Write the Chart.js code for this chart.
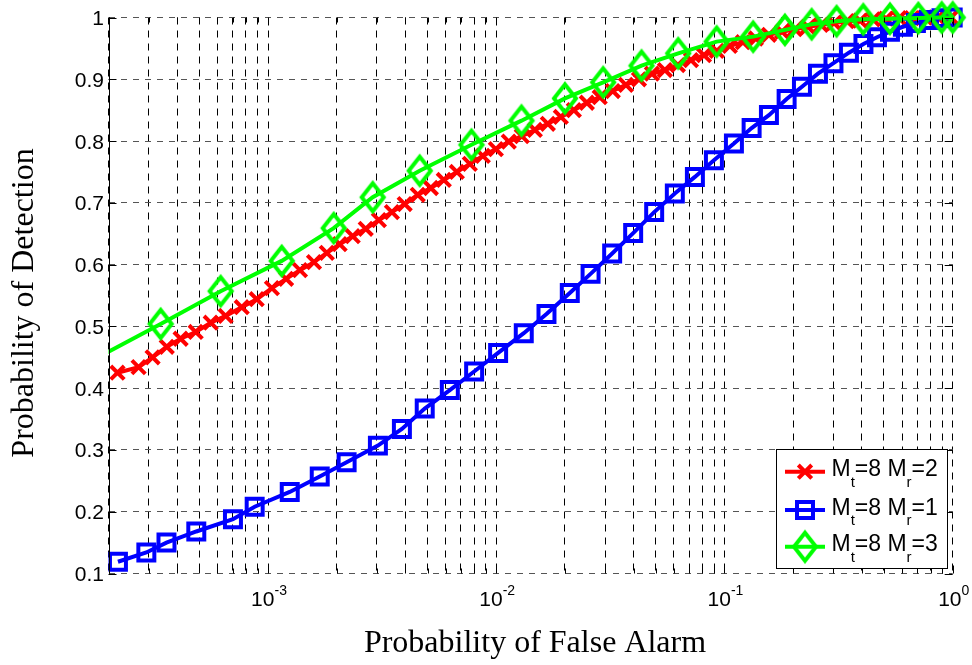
<!DOCTYPE html>
<html>
<head>
<meta charset="utf-8">
<script src="https://cdn.jsdelivr.net/npm/chart.js@4.4.1/dist/chart.umd.min.js"></script>
<style>
html,body{margin:0;padding:0;background:#fff;}
canvas{display:block;}
</style>
</head>
<body>
<canvas id="c" width="972" height="665" style="width:972px;height:665px"></canvas>
<script>
// values
const legendLabels = ['M_t=8 M_r=2', 'M_t=8 M_r=1', 'M_t=8 M_r=3'];
const xTickExps = [-3, -2, -1, 0];
const yTickLabels = ['0.1','0.2','0.3','0.4','0.5','0.6','0.7','0.8','0.9','1'];

const pfaRed = [2.19e-4, 2.71e-4, 3.12e-4, 3.60e-4, 4.14e-4, 4.82e-4, 5.61e-4, 6.52e-4, 7.67e-4, 8.92e-4,
  1.04e-3, 1.20e-3, 1.38e-3, 1.59e-3, 1.81e-3, 2.06e-3, 2.35e-3, 2.68e-3, 3.06e-3, 3.49e-3,
  3.97e-3, 4.53e-3, 5.17e-3, 5.89e-3, 6.72e-3, 7.66e-3, 8.73e-3, 9.96e-3, 1.135e-2, 1.294e-2,
  1.476e-2, 1.683e-2, 1.919e-2, 2.188e-2, 2.494e-2, 2.84e-2, 3.24e-2, 3.70e-2, 4.22e-2, 4.81e-2,
  5.48e-2, 6.25e-2, 7.13e-2, 8.13e-2, 9.26e-2, 0.1056, 0.1204, 0.1373, 0.1566, 0.1786,
  0.2036, 0.2321, 0.2647, 0.3018, 0.3441, 0.3924, 0.4473, 0.5101, 0.5816, 0.6632,
  0.7561, 0.862, 0.983];
const pdRed = [0.425, 0.434, 0.450, 0.467, 0.480, 0.491, 0.506, 0.517, 0.531, 0.544,
  0.562, 0.577, 0.591, 0.604, 0.619, 0.633, 0.646, 0.658, 0.672, 0.685,
  0.698, 0.713, 0.724, 0.737, 0.750, 0.763, 0.776, 0.787, 0.799, 0.808,
  0.818, 0.828, 0.839, 0.850, 0.862, 0.871, 0.881, 0.891, 0.900, 0.909,
  0.915, 0.923, 0.931, 0.939, 0.946, 0.954, 0.960, 0.966, 0.972, 0.977,
  0.981, 0.985, 0.988, 0.991, 0.994, 0.995, 0.997, 0.998, 0.999, 0.999,
  1.0, 1.0, 1.0];

const pfaBlue = [2.20e-4, 2.93e-4, 3.59e-4, 4.85e-4, 7.02e-4, 8.74e-4, 1.245e-3, 1.685e-3, 2.21e-3, 3.03e-3,
  3.86e-3, 4.86e-3, 6.26e-3, 8.0e-3, 1.019e-2, 1.32e-2, 1.66e-2, 2.10e-2, 2.59e-2, 3.22e-2,
  3.98e-2, 4.92e-2, 6.06e-2, 7.42e-2, 8.99e-2, 0.110, 0.1315, 0.1566, 0.1872, 0.2185,
  0.2568, 0.3003, 0.351, 0.4064, 0.4658, 0.531, 0.605, 0.690, 0.787, 0.893, 1.0];
const pdBlue = [0.119, 0.134, 0.150, 0.168, 0.188, 0.208, 0.232, 0.257, 0.280, 0.307,
  0.334, 0.367, 0.397, 0.427, 0.457, 0.489, 0.520, 0.554, 0.585, 0.618,
  0.651, 0.685, 0.715, 0.742, 0.769, 0.796, 0.821, 0.842, 0.868, 0.888,
  0.909, 0.926, 0.943, 0.957, 0.968, 0.977, 0.985, 0.991, 0.996, 0.999, 1.0];

const pfaGreen = [1.7e-4, 3.385e-4, 6.20e-4, 1.148e-3, 1.94e-3, 2.876e-3, 4.62e-3, 7.79e-3, 1.29e-2, 2.0e-2,
  2.94e-2, 4.33e-2, 6.27e-2, 9.24e-2, 0.1336, 0.184, 0.241, 0.310, 0.4056, 0.531, 0.707, 0.895, 1.0];
const pdGreen = [0.445, 0.504, 0.557, 0.606, 0.659, 0.709, 0.752, 0.794, 0.833, 0.869,
  0.895, 0.922, 0.942, 0.961, 0.969, 0.980, 0.989, 0.994, 0.997, 0.998, 0.999, 1.0, 1.0];

const pts = (xs, ys) => xs.map((x, i) => ({x, y: ys[i]}));

// matlab-ish diamond (a bit taller than wide)
function diamondImg(color){
  const c = document.createElement('canvas');
  c.width = 30; c.height = 36;
  const g = c.getContext('2d');
  g.strokeStyle = color; g.lineWidth = 4;
  g.beginPath();
  g.moveTo(15, 4); g.lineTo(26, 18); g.lineTo(15, 32); g.lineTo(4, 18);
  g.closePath(); g.stroke();
  return c;
}
const diamond = diamondImg('#00ff00');

const SANS = '"Liberation Sans", Arial, sans-serif';
const SERIF = '"Liberation Serif", "Times New Roman", serif';

function drawRich(ctx, str, x, base, size, subSize, drop){
  // "_" makes the next char a subscript
  let cx = x;
  for(let i=0;i<str.length;i++){
    let ch = str[i], sub = false;
    if(ch === '_'){ sub = true; ch = str[++i]; }
    ctx.font = (sub ? subSize : size) + 'px ' + SANS;
    ctx.fillText(ch, cx, sub ? base + drop : base);
    cx += ctx.measureText(ch).width;
  }
}

const decor = {
  id: 'decor',
  afterDraw(chart){
    const {ctx, chartArea: a, scales: {x, y}} = chart;
    ctx.save();
    ctx.strokeStyle = '#000'; ctx.lineWidth = 1;
    const seg = (x1,y1,x2,y2) => { ctx.beginPath(); ctx.moveTo(x1,y1); ctx.lineTo(x2,y2); ctx.stroke(); };

    // left axis
    const L = Math.round(a.left) + 0.5;
    seg(L, a.top, L, a.bottom);

    // tick marks
    x.ticks.forEach(t => {
      const px = Math.round(x.getPixelForValue(t.value)) + 0.5;
      const major = Math.abs(Math.log10(t.value) - Math.round(Math.log10(t.value))) < 1e-9;
      const len = major ? 8 : 5;
      seg(px, a.bottom, px, a.bottom - len);
      seg(px, a.top, px, a.top + len);
    });
    y.ticks.forEach(t => {
      const py = Math.round(y.getPixelForValue(t.value)) + 0.5;
      seg(a.left, py, a.left + 8, py);
      seg(a.right, py, a.right - 8, py);
    });

    // tick labels
    ctx.fillStyle = '#000';
    ctx.textBaseline = 'alphabetic';
    ctx.textAlign = 'right';
    ctx.font = '21px ' + SANS;
    yTickLabels.forEach(s => {
      ctx.fillText(s, 104, y.getPixelForValue(parseFloat(s)) + 7.5);
    });
    ctx.textAlign = 'left';
    xTickExps.forEach(e => {
      const px = x.getPixelForValue(Math.pow(10, e));
      ctx.font = '21px ' + SANS;
      const w1 = ctx.measureText('10').width;
      ctx.font = '14px ' + SANS;
      const w2 = ctx.measureText(String(e)).width;
      const x0 = px - (w1 + w2) / 2 + 1;
      ctx.font = '21px ' + SANS;
      ctx.fillText('10', x0, 606);
      ctx.font = '14px ' + SANS;
      ctx.fillText(String(e), x0 + w1, 595);
    });

    // axis titles
    ctx.font = '32px ' + SERIF;
    ctx.textAlign = 'center';
    ctx.fillText('Probability of False Alarm', 535, 652);
    ctx.save();
    ctx.translate(33, 303);
    ctx.rotate(-Math.PI / 2);
    ctx.fillText('Probability of Detection', 0, 0);
    ctx.restore();

    // legend
    const lx = 776, ly = 449, lw = 171, lh = 119;
    ctx.fillStyle = '#fff';
    ctx.fillRect(lx, ly, lw, lh);
    ctx.strokeStyle = '#000'; ctx.lineWidth = 1;
    ctx.strokeRect(lx + 0.5, ly + 0.5, lw, lh);
    const rows = [471.7, 510, 546.7];
    chart.data.datasets.forEach((ds, i) => {
      const cy = rows[i];
      ctx.strokeStyle = ds.borderColor; ctx.lineWidth = ds.borderWidth;
      seg(785, cy, 825, cy);
      ctx.fillStyle = 'rgba(0,0,0,0)';
      ctx.strokeStyle = ds.pointBorderColor; ctx.lineWidth = ds.pointBorderWidth;
      Chart.helpers.drawPoint(ctx, {pointStyle: ds.pointStyle, radius: ds.pointRadius, borderWidth: ds.pointBorderWidth, rotation: 0}, 805, cy);
      ctx.fillStyle = '#000';
      ctx.textAlign = 'left';
      drawRich(ctx, legendLabels[i], 831.5, cy + 4.5, 23, 15, 10.5);
    });
    ctx.restore();
  }
};

const xTicks = [];
for(let e = -4; e < 0; e++){
  for(let m = 1; m < 10; m++){
    const v = m * Math.pow(10, e);
    if(v >= 2e-4 - 1e-12) xTicks.push(v);
  }
}
xTicks.push(1);

const clip = {left: 0, top: 20, right: 20, bottom: 0};

new Chart(document.getElementById('c'), {
  type: 'line',
  data: {
    datasets: [
      { label: legendLabels[0], data: pts(pfaRed, pdRed), order: 3, clip,
        borderColor: '#ff0000', borderWidth: 4, tension: 0,
        pointStyle: 'crossRot', pointRadius: 9.5, pointBorderWidth: 4,
        pointBorderColor: '#ff0000', pointBackgroundColor: 'rgba(0,0,0,0)' },
      { label: legendLabels[1], data: pts(pfaBlue, pdBlue), order: 2, clip,
        borderColor: '#0000ff', borderWidth: 4, tension: 0,
        pointStyle: 'rect', pointRadius: 11.3, pointBorderWidth: 4,
        pointBorderColor: '#0000ff', pointBackgroundColor: 'rgba(0,0,0,0)' },
      { label: legendLabels[2], data: pts(pfaGreen, pdGreen), order: 1, clip,
        borderColor: '#00ff00', borderWidth: 4, tension: 0,
        pointStyle: diamond, pointRadius: 13, pointBorderWidth: 4,
        pointBorderColor: '#00ff00', pointBackgroundColor: 'rgba(0,0,0,0)' }
    ]
  },
  options: {
    responsive: false,
    animation: false,
    events: [],
    layout: { padding: { left: 0, top: 17.5, right: 19.3, bottom: 0 } },
    plugins: { legend: { display: false }, tooltip: { enabled: false } },
    scales: {
      x: {
        type: 'logarithmic', min: 2e-4, max: 1,
        ticks: { display: false },
        afterBuildTicks: s => { s.ticks = xTicks.map(v => ({value: v})); },
        afterFit: s => { s.height = 91.5; },
        grid: { color: '#000', lineWidth: 1, drawTicks: false },
        border: { display: false, dash: [7, 6] }
      },
      y: {
        type: 'linear', min: 0.1, max: 1,
        ticks: { display: false, stepSize: 0.1 },
        afterFit: s => { s.width = 108.5; },
        grid: { color: '#555', lineWidth: 1, drawTicks: false },
        border: { display: false, dash: [6, 6] }
      }
    }
  },
  plugins: [decor]
});
</script>
</body>
</html>
